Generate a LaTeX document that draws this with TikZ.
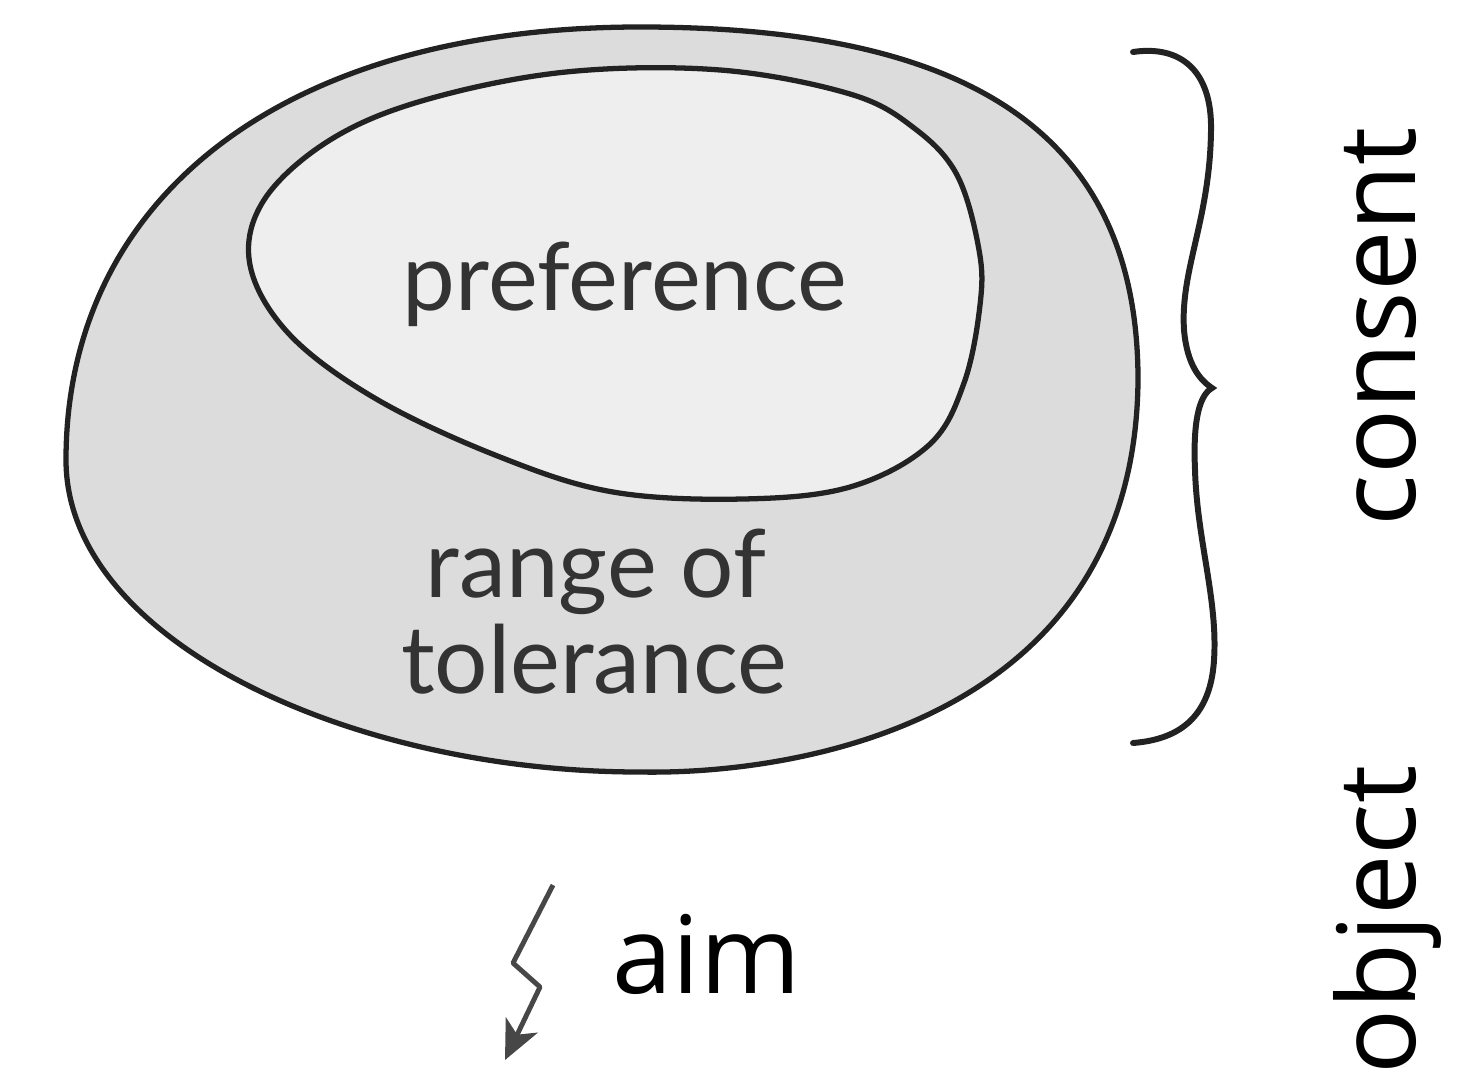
\documentclass[tikz,border=0pt]{standalone}
\usepackage{fontspec}
\newfontfamily\blobfont{Lato}
\newfontfamily\sidefont{Open Sans}
\usetikzlibrary{arrows.meta, positioning}

\definecolor{outerfill}{HTML}{DCDCDC}
\definecolor{innerfill}{HTML}{EEEEEE}
\definecolor{inkline}{HTML}{222222}
\definecolor{inktext}{HTML}{333333}

\begin{document}
\begin{tikzpicture}[
    x=0.01cm, y=-0.01cm,
    blob/.style={draw=inkline, line width=1.5pt, line join=round},
    inside/.style={font=\blobfont\fontsize{26.8}{27.3}\selectfont, text=inktext, inner sep=0pt, anchor=base},
    side/.style={font=\sidefont\fontsize{30.7}{32}\selectfont, text=black, inner sep=0pt, anchor=base west},
    brace/.style={draw=inkline, line width=1.7pt, line cap=round},
    squiggle/.style={draw=black!72, line width=1.4pt, line join=round, -{Stealth[length=11pt, width=10pt, inset=3pt]}}
]
    \clip (0,0) rectangle (1471,1070);

    % range of tolerance
    \draw[blob, fill=outerfill] (66,460)
        .. controls (66,200) and (280,27) .. (640,27)
        .. controls (950,27) and (1138,120) .. (1138,380)
        .. controls (1135,720) and (800,775) .. (640,772)
        .. controls (350,772) and (66,640) .. cycle;

    % preference
    \draw[blob, fill=innerfill] plot[smooth cycle, tension=0.6] coordinates {
        (250,265) (264,200) (330,140) (425,100) (566,72) (720,70)
        (850,94) (914,128) (957,175) (979,250) (980,305) (964,383)
        (929,445) (850,487) (743,499) (613,492) (500,457) (378,400)
        (290,335)};

    \node[inside] (pref) at (625,310) {preference};
    \node[inside] (range) at (596,597) {range of};
    \node[inside] (toler) at (594,693) {tolerance};

    % brace
    \draw[brace] (1133,52) .. controls (1180,45) and (1212,70) .. (1211,130)
        .. controls (1210,220) and (1180,270) .. (1184,330)
        .. controls (1187,365) and (1200,380) .. (1212,388)
        .. controls (1198,396) and (1193,425) .. (1195,470)
        .. controls (1197,540) and (1218,600) .. (1214,660)
        .. controls (1210,725) and (1170,740) .. (1133,743);

    \node[side, rotate=90] (consent) at (1415,527) {consent};
    \node[side, rotate=90] (object) at (1415,1075) {object};

    % aim
    \node[side] (aim) at (612,993) {aim};
    \coordinate (aimtop) at (553,885);
    \coordinate (aimtip) at (505,1060);
    \draw[squiggle] (aimtop) -- (513,963) -- (540,987) -- (aimtip);
\end{tikzpicture}
\end{document}
